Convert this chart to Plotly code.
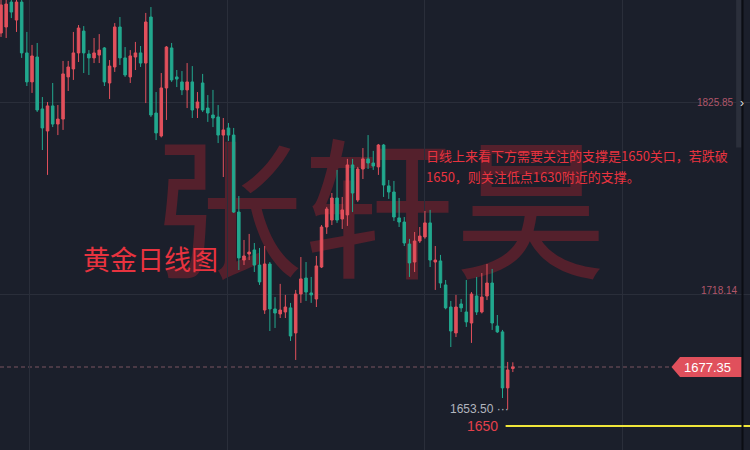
import plotly.graph_objects as go

# ---- data (daily gold candles, oldest -> newest) ----
opens = [1865.2, 1868.6, 1882.6, 1872.5, 1882.6, 1854.0, 1837.7, 1851.7, 1822.5, 1810.1,
         1824.2, 1814.0, 1816.8, 1840.5, 1845.0, 1854.0, 1866.3, 1853.4, 1851.2, 1852.8,
         1856.8, 1837.1, 1846.1, 1868.6, 1851.2, 1840.5, 1851.7, 1854.0, 1848.3, 1874.2,
         1820.2, 1807.3, 1834.3, 1856.8, 1840.5, 1837.7, 1833.2, 1837.7, 1823.0, 1837.1,
         1823.0, 1819.1, 1818.0, 1807.8, 1811.8, 1807.8, 1764.5, 1737.5, 1740.9, 1743.2,
         1734.7, 1709.4, 1735.3, 1710.0, 1707.2, 1708.3, 1710.6, 1696.5, 1718.4, 1727.4,
         1719.0, 1715.6, 1733.6, 1756.1, 1760.0, 1772.4, 1760.6, 1762.9, 1791.0, 1771.3,
         1788.7, 1794.4, 1792.1, 1789.9, 1802.2, 1779.2, 1775.8, 1761.2, 1758.9, 1746.5,
         1736.4, 1748.2, 1750.5, 1758.4, 1736.4, 1737.0, 1723.5, 1711.1, 1696.5, 1712.8,
         1708.3, 1702.1, 1717.3, 1708.3, 1717.3, 1724.6, 1700.4, 1697.1, 1665.6, 1676.5]
highs = [1884.0, 1884.5, 1885.0, 1885.0, 1885.0, 1865.8, 1858.5, 1859.6, 1829.2, 1826.4,
         1837.1, 1824.7, 1849.5, 1849.5, 1865.8, 1869.7, 1869.1, 1855.6, 1862.4, 1864.6,
         1857.3, 1850.0, 1870.8, 1874.2, 1857.3, 1855.6, 1860.2, 1857.9, 1876.5, 1879.8,
         1832.0, 1842.7, 1857.9, 1859.6, 1844.4, 1843.8, 1848.3, 1846.6, 1832.0, 1842.2,
         1830.3, 1833.2, 1824.7, 1817.4, 1814.6, 1811.8, 1773.5, 1748.8, 1752.2, 1747.1,
         1744.3, 1745.4, 1736.4, 1716.7, 1724.1, 1717.9, 1713.4, 1720.7, 1739.2, 1736.4,
         1728.0, 1739.8, 1757.2, 1767.4, 1775.2, 1788.2, 1773.0, 1794.4, 1794.4, 1789.9,
         1800.5, 1807.8, 1798.9, 1802.8, 1802.8, 1782.5, 1782.0, 1772.4, 1761.7, 1749.4,
         1753.3, 1756.1, 1765.1, 1765.7, 1745.4, 1740.4, 1726.3, 1714.5, 1717.9, 1715.6,
         1726.3, 1719.5, 1728.0, 1730.2, 1735.3, 1732.5, 1706.6, 1698.2, 1680.2, 1680.0]
lows = [1863.0, 1862.4, 1873.6, 1865.8, 1851.2, 1835.4, 1831.5, 1820.8, 1799.4, 1785.4,
        1812.3, 1807.8, 1810.7, 1832.6, 1838.8, 1848.9, 1842.7, 1841.6, 1848.3, 1848.3,
        1835.4, 1828.1, 1843.3, 1847.2, 1840.5, 1837.1, 1844.4, 1846.1, 1825.8, 1818.0,
        1805.0, 1806.5, 1816.3, 1837.7, 1834.8, 1830.3, 1823.0, 1817.4, 1817.4, 1820.8,
        1815.2, 1812.3, 1803.3, 1784.2, 1804.5, 1764.0, 1731.9, 1734.7, 1737.5, 1730.8,
        1723.5, 1707.2, 1697.6, 1699.3, 1704.9, 1704.9, 1692.0, 1681.3, 1713.4, 1714.5,
        1713.4, 1711.1, 1733.0, 1752.2, 1757.2, 1758.4, 1755.0, 1756.7, 1764.5, 1770.2,
        1783.1, 1788.7, 1788.2, 1785.4, 1773.0, 1771.9, 1759.5, 1756.1, 1745.4, 1728.0,
        1730.8, 1747.1, 1749.5, 1733.6, 1720.7, 1721.8, 1709.8, 1688.6, 1694.2, 1708.3,
        1699.9, 1690.9, 1706.6, 1707.5, 1715.0, 1698.2, 1696.5, 1659.9, 1653.5, 1674.5]
closes = [1881.0, 1881.5, 1877.0, 1882.6, 1854.0, 1837.7, 1852.3, 1821.9, 1811.8, 1824.2,
          1814.0, 1816.8, 1842.2, 1846.1, 1854.0, 1868.0, 1854.0, 1851.2, 1854.0, 1855.6,
          1837.7, 1846.6, 1868.6, 1851.2, 1841.6, 1852.3, 1854.0, 1848.3, 1871.4, 1819.1,
          1809.0, 1834.3, 1857.3, 1838.8, 1839.3, 1833.2, 1837.7, 1821.9, 1826.4, 1821.9,
          1820.2, 1817.4, 1807.8, 1810.7, 1807.8, 1764.5, 1738.7, 1739.8, 1742.0, 1734.7,
          1725.2, 1735.3, 1710.0, 1707.7, 1709.4, 1711.1, 1694.8, 1718.4, 1726.9, 1719.5,
          1717.9, 1734.2, 1756.1, 1766.2, 1772.4, 1760.0, 1765.7, 1791.0, 1775.2, 1788.7,
          1794.4, 1792.1, 1790.4, 1802.2, 1779.7, 1775.8, 1761.7, 1758.9, 1747.1, 1735.9,
          1748.2, 1751.0, 1758.4, 1737.5, 1737.5, 1724.6, 1710.6, 1697.6, 1711.1, 1710.6,
          1702.7, 1718.4, 1708.3, 1716.7, 1724.6, 1702.1, 1697.1, 1665.6, 1675.7, 1677.35]
bar_index = list(range(len(opens)))

last_price = 1677.35
low_price = 1653.50
level_labels = [1825.85, 1718.14]
support_text = "1650"
support_line_price = 1644.2      # where the yellow drawn line sits on the chart
grid_x = [5.6, 43.9, 82.0, 120.3]

title_text = "黄金日线图"
watermark_text = "张轩昊"
note_lines = ["日线上来看下方需要关注的支撑是1650关口，若跌破",
              "1650，则关注低点1630附近的支撑。"]

# ---- styles ----
BG = "#1b1f2b"
GRID = "#2a2e3a"
RED = "#e2505c"
TEAL = "#22a88e"
TXT_RED = "#e8333f"
CJK = "Noto Sans CJK SC"
LAT = "Liberation Sans, Arial, sans-serif"

X_RANGE = [-0.193, 144.87]
Y_RANGE = [1630.67, 1883.77]

fig = go.Figure()
fig.add_trace(go.Candlestick(
    x=bar_index, open=opens, high=highs, low=lows, close=closes,
    increasing=dict(line=dict(color=RED, width=1), fillcolor=RED),
    decreasing=dict(line=dict(color=TEAL, width=1), fillcolor=TEAL),
    whiskerwidth=0, showlegend=False, hoverinfo="skip",
))

tag_half = 5.6
shapes = [
    # watermark, below the candles
    dict(type="rect", xref="paper", yref="paper", x0=0.2, x1=0.81, y0=0.30, y1=0.70,
         line=dict(width=0), fillcolor="rgba(0,0,0,0)", layer="between",
         label=dict(text=watermark_text, textposition="middle center",
                    font=dict(family=CJK, size=152, color="#54202c"))),
    # last price dashed line
    dict(type="line", xref="paper", yref="y", x0=0, x1=0.8956, y0=last_price, y1=last_price,
         line=dict(color="#7a5560", width=1, dash="4px,3px"), layer="between"),
    # last price tag
    dict(type="path", xref="paper", yref="y",
         path=(f"M 0.8953,{last_price} L 0.9067,{last_price + tag_half} "
               f"L 0.9889,{last_price + tag_half} L 0.9889,{last_price - tag_half} "
               f"L 0.9067,{last_price - tag_half} Z"),
         fillcolor="#e0505c", line=dict(width=0)),
    # yellow support line
    dict(type="line", xref="x", yref="y", x0=97.6, x1=X_RANGE[1],
         y0=support_line_price, y1=support_line_price,
         line=dict(color="#f0e63a", width=2)),
    # scrollbar strip at right edge
    dict(type="rect", xref="paper", yref="paper", x0=0.9815, x1=0.9885, y0=0.672, y1=1.0,
         fillcolor="#2b2f3b", line=dict(width=0)),
    # right border
    dict(type="line", xref="paper", yref="paper", x0=0.9900, x1=0.9900, y0=0, y1=1,
         line=dict(color="#0b0d13", width=2)),
]

annotations = [
    dict(text=title_text, xref="paper", yref="paper", x=150 / 750, y=1 - 258 / 450,
         xanchor="center", yanchor="middle",
         showarrow=False, font=dict(family=CJK, size=27, color=TXT_RED)),
    dict(text=note_lines[0], xref="paper", yref="paper", x=425 / 750, y=1 - 155.5 / 450,
         xanchor="left", yanchor="middle", showarrow=False, borderpad=0,
         font=dict(family=CJK, size=13, color=TXT_RED)),
    dict(text=note_lines[1], xref="paper", yref="paper", x=425 / 750, y=1 - 176 / 450,
         xanchor="left", yanchor="middle", showarrow=False, borderpad=0,
         font=dict(family=CJK, size=13, color=TXT_RED)),
    dict(text=f"{level_labels[0]:.2f}", xref="paper", yref="y", x=736 / 750, y=level_labels[0],
         xanchor="right", yanchor="middle", showarrow=False,
         font=dict(family=LAT, size=10, color="#b0566a")),
    dict(text=f"{level_labels[1]:.2f}", xref="paper", yref="y", x=740 / 750, y=level_labels[1] + 2.5,
         xanchor="right", yanchor="middle", showarrow=False,
         font=dict(family=LAT, size=10, color="#b0566a")),
    dict(text="›", xref="paper", yref="y", x=739 / 750, y=level_labels[0],
         xanchor="left", yanchor="middle", borderpad=0,
         showarrow=False, font=dict(family=LAT, size=12, color="#e0e0e0")),
    dict(text=f"{last_price:.2f}", xref="paper", yref="y", x=707 / 750, y=last_price,
         xanchor="center", yanchor="middle",
         showarrow=False, font=dict(family=LAT, size=13, color="#ffffff")),
    dict(text=f"{low_price:.2f} ···", xref="paper", yref="y", x=511 / 750, y=low_price,
         xanchor="right", yanchor="middle", showarrow=False,
         font=dict(family=LAT, size=12, color="#b2b5be")),
    dict(text=support_text, xref="paper", yref="y", x=500 / 750, y=support_line_price,
         xanchor="right", yanchor="middle", showarrow=False,
         font=dict(family=LAT, size=14, color="#e4404b")),
]

fig.update_layout(
    width=750, height=450, autosize=False,
    margin=dict(l=0, r=0, t=0, b=0, pad=0),
    paper_bgcolor=BG, plot_bgcolor=BG,
    showlegend=False,
    shapes=shapes, annotations=annotations,
    xaxis=dict(range=X_RANGE, tickvals=grid_x, showticklabels=False, showgrid=True,
               gridcolor=GRID, gridwidth=1, zeroline=False, showline=False,
               rangeslider=dict(visible=False), fixedrange=True),
    yaxis=dict(range=Y_RANGE, tickvals=level_labels, showticklabels=False, showgrid=True,
               gridcolor=GRID, gridwidth=1, zeroline=False, showline=False, fixedrange=True),
)

fig.write_html(
    "out.html",
    config=dict(displayModeBar=False),
    post_script="document.body.style.margin='0';document.body.style.overflow='hidden';",
)
